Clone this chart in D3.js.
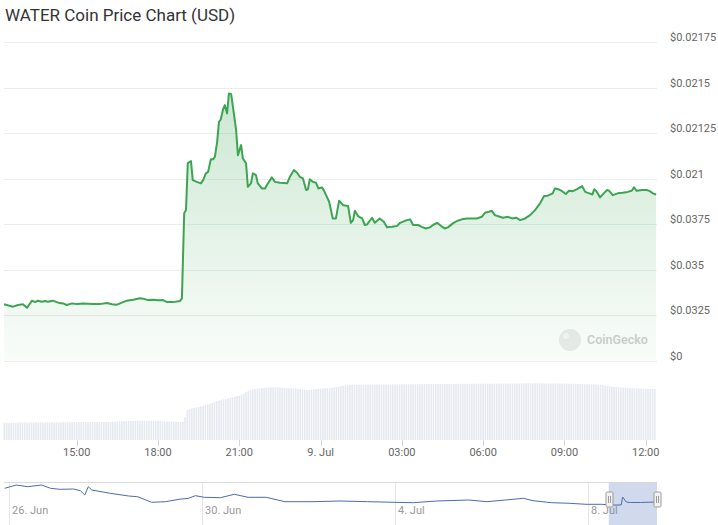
<!DOCTYPE html>
<html>
<head>
<meta charset="utf-8">
<script src="https://cdn.jsdelivr.net/npm/d3@7"></script>
<style>
  html, body { margin: 0; padding: 0; background: #fff; }
  svg { display: block; font-family: Roboto, "Noto Sans", sans-serif; }
</style>
</head>
<body>
<svg id="chart" width="718" height="525"></svg>
<script>
// ---------------- DATA ----------------
const chartTitle = "WATER Coin Price Chart (USD)";

const priceTimes = [
  "07-08 12:19","07-08 12:39","07-08 12:50","07-08 13:01","07-08 13:10","07-08 13:21","07-08 13:28","07-08 13:34","07-08 13:43","07-08 13:50",
  "07-08 13:56","07-08 14:07","07-08 14:19","07-08 14:30","07-08 14:38","07-08 14:50","07-08 15:01","07-08 15:14","07-08 15:36","07-08 15:51",
  "07-08 16:07","07-08 16:18","07-08 16:29","07-08 16:40","07-08 16:51","07-08 17:05","07-08 17:20","07-08 17:27","07-08 17:38","07-08 17:49",
  "07-08 18:00","07-08 18:11","07-08 18:20","07-08 18:33","07-08 18:49","07-08 18:53","07-08 18:58","07-08 19:02","07-08 19:06","07-08 19:13",
  "07-08 19:17","07-08 19:26","07-08 19:35","07-08 19:40","07-08 19:46","07-08 19:51","07-08 19:57","07-08 20:02","07-08 20:06","07-08 20:11",
  "07-08 20:15","07-08 20:19","07-08 20:24","07-08 20:28","07-08 20:33","07-08 20:37","07-08 20:42","07-08 20:46","07-08 20:53","07-08 20:57",
  "07-08 21:04","07-08 21:08","07-08 21:15","07-08 21:19","07-08 21:26","07-08 21:30","07-08 21:37","07-08 21:41","07-08 21:50","07-08 21:57",
  "07-08 22:01","07-08 22:12","07-08 22:19","07-08 22:30","07-08 22:46","07-08 22:52","07-08 23:01","07-08 23:08","07-08 23:14","07-08 23:21",
  "07-08 23:28","07-08 23:32","07-08 23:36","07-08 23:43","07-08 23:50","07-08 23:55","07-09 00:03","07-09 00:07","07-09 00:14","07-09 00:19",
  "07-09 00:27","07-09 00:34","07-09 00:41","07-09 00:50","07-09 01:01","07-09 01:07","07-09 01:12","07-09 01:16","07-09 01:23","07-09 01:32",
  "07-09 01:38","07-09 01:43","07-09 01:54","07-09 02:00","07-09 02:11","07-09 02:20","07-09 02:27","07-09 02:38","07-09 02:49","07-09 02:56",
  "07-09 03:07","07-09 03:18","07-09 03:25","07-09 03:36","07-09 03:44","07-09 03:53","07-09 04:02","07-09 04:09","07-09 04:18","07-09 04:27",
  "07-09 04:35","07-09 04:42","07-09 04:53","07-09 05:02","07-09 05:13","07-09 05:24","07-09 05:35","07-09 05:46","07-09 05:57","07-09 06:04",
  "07-09 06:13","07-09 06:19","07-09 06:26","07-09 06:37","07-09 06:44","07-09 06:55","07-09 07:04","07-09 07:13","07-09 07:22","07-09 07:33",
  "07-09 07:44","07-09 07:55","07-09 08:06","07-09 08:15","07-09 08:23","07-09 08:34","07-09 08:39","07-09 08:46","07-09 08:55","07-09 09:03",
  "07-09 09:10","07-09 09:19","07-09 09:28","07-09 09:39","07-09 09:46","07-09 09:55","07-09 10:02","07-09 10:06","07-09 10:10","07-09 10:19",
  "07-09 10:25","07-09 10:34","07-09 10:39","07-09 10:47","07-09 10:58","07-09 11:09","07-09 11:20","07-09 11:29","07-09 11:34","07-09 11:40",
  "07-09 11:52","07-09 12:03","07-09 12:09","07-09 12:16","07-09 12:23"
];
const priceValues = [
  0.020309,0.020296,0.020305,0.020309,0.020290,0.020329,0.020321,0.020329,0.020323,0.020327,
  0.020323,0.020329,0.020318,0.020314,0.020305,0.020314,0.020310,0.020314,0.020310,0.020310,
  0.020316,0.020309,0.020307,0.020318,0.020329,0.020334,0.020342,0.020340,0.020332,0.020334,
  0.020331,0.020332,0.020321,0.020321,0.020327,0.020343,0.020810,0.020827,0.021085,0.021096,
  0.020992,0.020982,0.020974,0.020992,0.021029,0.021037,0.021106,0.021106,0.021120,0.021202,
  0.021312,0.021325,0.021380,0.021404,0.021358,0.021468,0.021464,0.021395,0.021266,0.021129,
  0.021184,0.021111,0.021084,0.020955,0.020974,0.021029,0.021019,0.020974,0.020946,0.020946,
  0.020964,0.021007,0.020982,0.020977,0.020974,0.021010,0.021047,0.021032,0.021010,0.021001,
  0.020937,0.020941,0.020996,0.020982,0.020977,0.020946,0.020952,0.020937,0.020900,0.020873,
  0.020781,0.020781,0.020878,0.020854,0.020849,0.020757,0.020772,0.020823,0.020794,0.020781,
  0.020745,0.020748,0.020785,0.020757,0.020781,0.020763,0.020732,0.020735,0.020739,0.020757,
  0.020768,0.020776,0.020745,0.020745,0.020735,0.020726,0.020732,0.020745,0.020757,0.020739,
  0.020726,0.020732,0.020754,0.020767,0.020776,0.020781,0.020781,0.020781,0.020790,0.020812,
  0.020818,0.020823,0.020799,0.020790,0.020785,0.020790,0.020781,0.020785,0.020772,0.020781,
  0.020799,0.020827,0.020864,0.020904,0.020906,0.020919,0.020946,0.020942,0.020931,0.020915,
  0.020933,0.020931,0.020942,0.020959,0.020927,0.020919,0.020913,0.020941,0.020933,0.020897,
  0.020913,0.020937,0.020933,0.020909,0.020919,0.020922,0.020927,0.020933,0.020952,0.020933,
  0.020937,0.020937,0.020931,0.020919,0.020913
];

// volume, thousands USD, one bar every 5 minutes from 8 Jul 12:20
const volumeStart = "07-08 12:20";
const volumeValues = [
  173,173,173,174,174,174,174,175,175,175,175,175,
  175,176,176,176,176,176,176,177,177,177,177,177,
  177,177,178,178,178,178,178,178,178,178,179,179,
  179,179,179,179,179,180,180,180,180,180,180,181,
  182,183,184,185,186,187,188,189,190,190,191,191,
  192,192,192,192,191,191,190,190,189,188,187,186,
  185,184,184,183,183,182,182,182,230,300,310,315,
  320,325,330,335,340,350,355,365,370,380,390,395,
  400,405,410,415,420,425,430,440,445,455,465,480,
  490,500,505,510,515,515,520,520,525,525,525,527,
  527,525,525,522,520,520,518,517,515,515,510,510,
  505,500,500,500,503,505,510,510,512,515,517,517,
  520,520,525,530,535,540,540,545,545,550,550,550,
  550,552,552,553,553,554,554,555,555,555,555,556,
  556,556,556,557,557,557,557,557,558,558,558,558,
  558,558,558,559,559,559,559,560,560,560,560,560,
  560,560,560,560,561,561,561,561,561,561,562,562,
  562,562,562,562,562,563,563,563,563,563,563,563,
  563,563,563,564,564,564,564,565,565,565,565,565,
  566,566,566,567,567,567,567,568,568,568,567,567,
  567,566,566,566,565,565,565,564,564,563,563,562,
  562,561,561,560,560,559,558,558,557,556,555,554,
  552,548,545,540,536,533,531,529,527,525,523,522,
  520,519,518,517,516,515,514,513,512,511,510,510,
  510
];

const yTickValues = [0.02, 0.02025, 0.0205, 0.02075, 0.021, 0.02125, 0.0215, 0.02175];
const yTickLabels = ["$0", "$0.0325", "$0.035", "$0.0375", "$0.021", "$0.02125", "$0.0215", "$0.02175"];

const xTickTimes  = ["07-08 15:00","07-08 18:00","07-08 21:00","07-09 00:00","07-09 03:00","07-09 06:00","07-09 09:00","07-09 12:00"];
const xTickLabels = ["15:00","18:00","21:00","9. Jul","03:00","06:00","09:00","12:00"];
const xDomain = ["07-08 12:19", "07-09 12:25"];

// navigator (two weeks overview)
const navTimes = [
  "06-25 21:50","06-26 03:30","06-26 09:13","06-26 16:06","06-26 20:41","06-27 01:17","06-27 08:05","06-27 11:30","06-27 13:41","06-27 15:26",
  "06-27 17:10","06-28 02:22","06-28 11:30","06-28 15:58","06-28 22:55","06-29 05:51","06-29 12:39","06-29 17:16","06-29 20:41","06-30 01:12",
  "06-30 09:07","06-30 16:03","06-30 22:55","07-01 07:56","07-01 17:12","07-02 06:45","07-02 20:38","07-03 10:22","07-03 23:54","07-04 09:10",
  "07-04 20:38","07-05 12:36","07-05 21:46","07-06 06:56","07-06 15:52","07-06 20:38","07-07 05:46","07-07 14:53","07-07 22:55","07-08 06:53",
  "07-08 11:27","07-08 16:28","07-08 17:10","07-08 19:00","07-08 21:00","07-09 02:00","07-09 10:17"
];
const navValues = [
  0.022805,0.0233,0.023045,0.0233,0.022805,0.022655,0.0227,0.022445,0.0218,0.023045,
  0.02255,0.022055,0.02165,0.021545,0.020705,0.020795,0.021155,0.021305,0.021695,0.021455,
  0.021395,0.021905,0.021455,0.021455,0.020795,0.020795,0.0209,0.020795,0.020705,0.020645,
  0.0209,0.02105,0.020795,0.02105,0.021305,0.020945,0.020645,0.020555,0.020405,0.020405,
  0.0203,0.0203,0.0215,0.02075,0.02068,0.02068,0.02075
];
const navDomain = ["06-25 21:30", "07-09 10:17"];
const navTickTimes  = ["06-26 00:00","06-30 00:00","07-04 00:00","07-08 00:00"];
const navTickLabels = ["26. Jun","30. Jun","4. Jul","8. Jul"];

// ---------------- DRAW ----------------
const parse = s => d3.timeParse("%Y-%m-%d %H:%M")("2024-" + s);
const svg = d3.select("#chart");

const plotL = 4, plotR = 657;
const x = d3.scaleTime().domain(xDomain.map(parse)).range([plotL, plotR]);
const y = d3.scaleLinear().domain([yTickValues[0], yTickValues[yTickValues.length - 1]]).range([360.5, 42.2]);
const yVol = d3.scaleLinear().domain([0, 800]).range([440, 360]);

const priceData = priceTimes.map((t, i) => ({ t: parse(t), v: priceValues[i] }));
const v0 = parse(volumeStart);
const volData = volumeValues.map((v, i) => ({ t: d3.timeMinute.offset(v0, 5 * i), v }));

// title
svg.append("text").attr("x", 5).attr("y", 21)
  .attr("font-size", 17).attr("fill", "#333").text(chartTitle);

// gridlines + y labels
const yAxis = svg.append("g");
yAxis.selectAll("line").data(yTickValues).join("line")
  .attr("x1", plotL).attr("x2", plotR)
  .attr("y1", d => Math.round(y(d)) + 0.5).attr("y2", d => Math.round(y(d)) + 0.5)
  .attr("stroke", "#ededed").attr("stroke-width", 1);
yAxis.selectAll("text").data(yTickValues).join("text")
  .attr("x", 670).attr("y", d => y(d) - 1)
  .attr("font-size", 11).attr("fill", "#666")
  .text((d, i) => yTickLabels[i]);

// gradient
const defs = svg.append("defs");
const grad = defs.append("linearGradient").attr("id", "areaGrad")
  .attr("gradientUnits", "userSpaceOnUse")
  .attr("x1", 0).attr("x2", 0).attr("y1", y.range()[1]).attr("y2", y.range()[0]);
grad.append("stop").attr("offset", 0).attr("stop-color", "#3ca552").attr("stop-opacity", 0.3);
grad.append("stop").attr("offset", 1).attr("stop-color", "#3ca552").attr("stop-opacity", 0.03);

// watermark
const wm = svg.append("g").attr("opacity", 1);
wm.append("circle").attr("cx", 570).attr("cy", 340).attr("r", 11).attr("fill", "#ececec");
wm.append("circle").attr("cx", 566).attr("cy", 336).attr("r", 3).attr("fill", "#f8f8f8");
wm.append("text").attr("x", 587).attr("y", 344).attr("font-size", 12.5)
  .attr("font-weight", 600).attr("fill", "#cfcfcf").text("CoinGecko");

// area + line
svg.append("path").datum(priceData)
  .attr("d", d3.area().x(d => x(d.t)).y0(y.range()[0]).y1(d => y(d.v)))
  .attr("fill", "url(#areaGrad)");
svg.append("path").datum(priceData)
  .attr("d", d3.line().x(d => x(d.t)).y(d => y(d.v)))
  .attr("fill", "none").attr("stroke", "#3ca552").attr("stroke-width", 2)
  .attr("stroke-linejoin", "round");

// volume bars
svg.append("g").selectAll("rect").data(volData).join("rect")
  .attr("x", d => x(d.t) - 0.8).attr("width", 1.6)
  .attr("y", d => yVol(d.v)).attr("height", d => yVol(0) - yVol(d.v))
  .attr("fill", "#e6e9ef");

// x axis ticks
const xt = svg.append("g");
const xTicks = xTickTimes.map(parse);
xt.selectAll("line").data(xTicks).join("line")
  .attr("x1", d => Math.round(x(d)) + 0.5).attr("x2", d => Math.round(x(d)) + 0.5)
  .attr("y1", 440).attr("y2", 446).attr("stroke", "#ccd6eb");
xt.selectAll("text").data(xTicks).join("text")
  .attr("x", d => x(d)).attr("y", 456).attr("text-anchor", "middle")
  .attr("font-size", 11).attr("fill", "#666")
  .text((d, i) => xTickLabels[i]);

// navigator
const xn = d3.scaleTime().domain(navDomain.map(parse)).range([plotL, plotR]);
const yn = d3.scaleLinear().domain([0.0203, 0.0233]).range([505, 485]);
const navTop = 482, navBot = 525;
const nav = svg.append("g");
const nTicks = navTickTimes.map(parse);
nav.selectAll("line.g").data(nTicks).join("line").attr("class", "g")
  .attr("x1", d => Math.round(xn(d)) + 0.5).attr("x2", d => Math.round(xn(d)) + 0.5)
  .attr("y1", navTop).attr("y2", navBot).attr("stroke", "#e6e6e6");
nav.selectAll("text").data(nTicks).join("text")
  .attr("x", d => xn(d) + 3).attr("y", 514)
  .attr("font-size", 11).attr("fill", "#999")
  .text((d, i) => navTickLabels[i]);
const navEnd = parse(navDomain[1]);
const selStart = d3.timeHour.offset(navEnd, -24);
nav.append("rect").attr("x", xn(selStart)).attr("width", xn(navEnd) - xn(selStart))
  .attr("y", navTop).attr("height", navBot - navTop)
  .attr("fill", "rgba(102,133,194,0.3)");
nav.append("line").attr("x1", plotL).attr("x2", plotR).attr("y1", navTop + 0.5).attr("y2", navTop + 0.5)
  .attr("stroke", "#d9d9d9");
const navData = navTimes.map((t, i) => ({ t: parse(t), v: navValues[i] }));
nav.append("path").datum(navData)
  .attr("d", d3.line().x(d => xn(d.t)).y(d => yn(d.v)))
  .attr("fill", "none").attr("stroke", "#4a6cb0").attr("stroke-width", 1);
[selStart, navEnd].forEach(t => {
  const hx = Math.round(xn(t)) + 0.5;
  const h = nav.append("g");
  h.append("rect").attr("x", hx - 3.5).attr("y", 492).attr("width", 7).attr("height", 15)
    .attr("rx", 1.5).attr("fill", "#f2f2f2").attr("stroke", "#999");
  h.append("line").attr("x1", hx - 1).attr("x2", hx - 1).attr("y1", 496).attr("y2", 503).attr("stroke", "#999");
  h.append("line").attr("x1", hx + 1).attr("x2", hx + 1).attr("y1", 496).attr("y2", 503).attr("stroke", "#999");
});
</script>
</body>
</html>
